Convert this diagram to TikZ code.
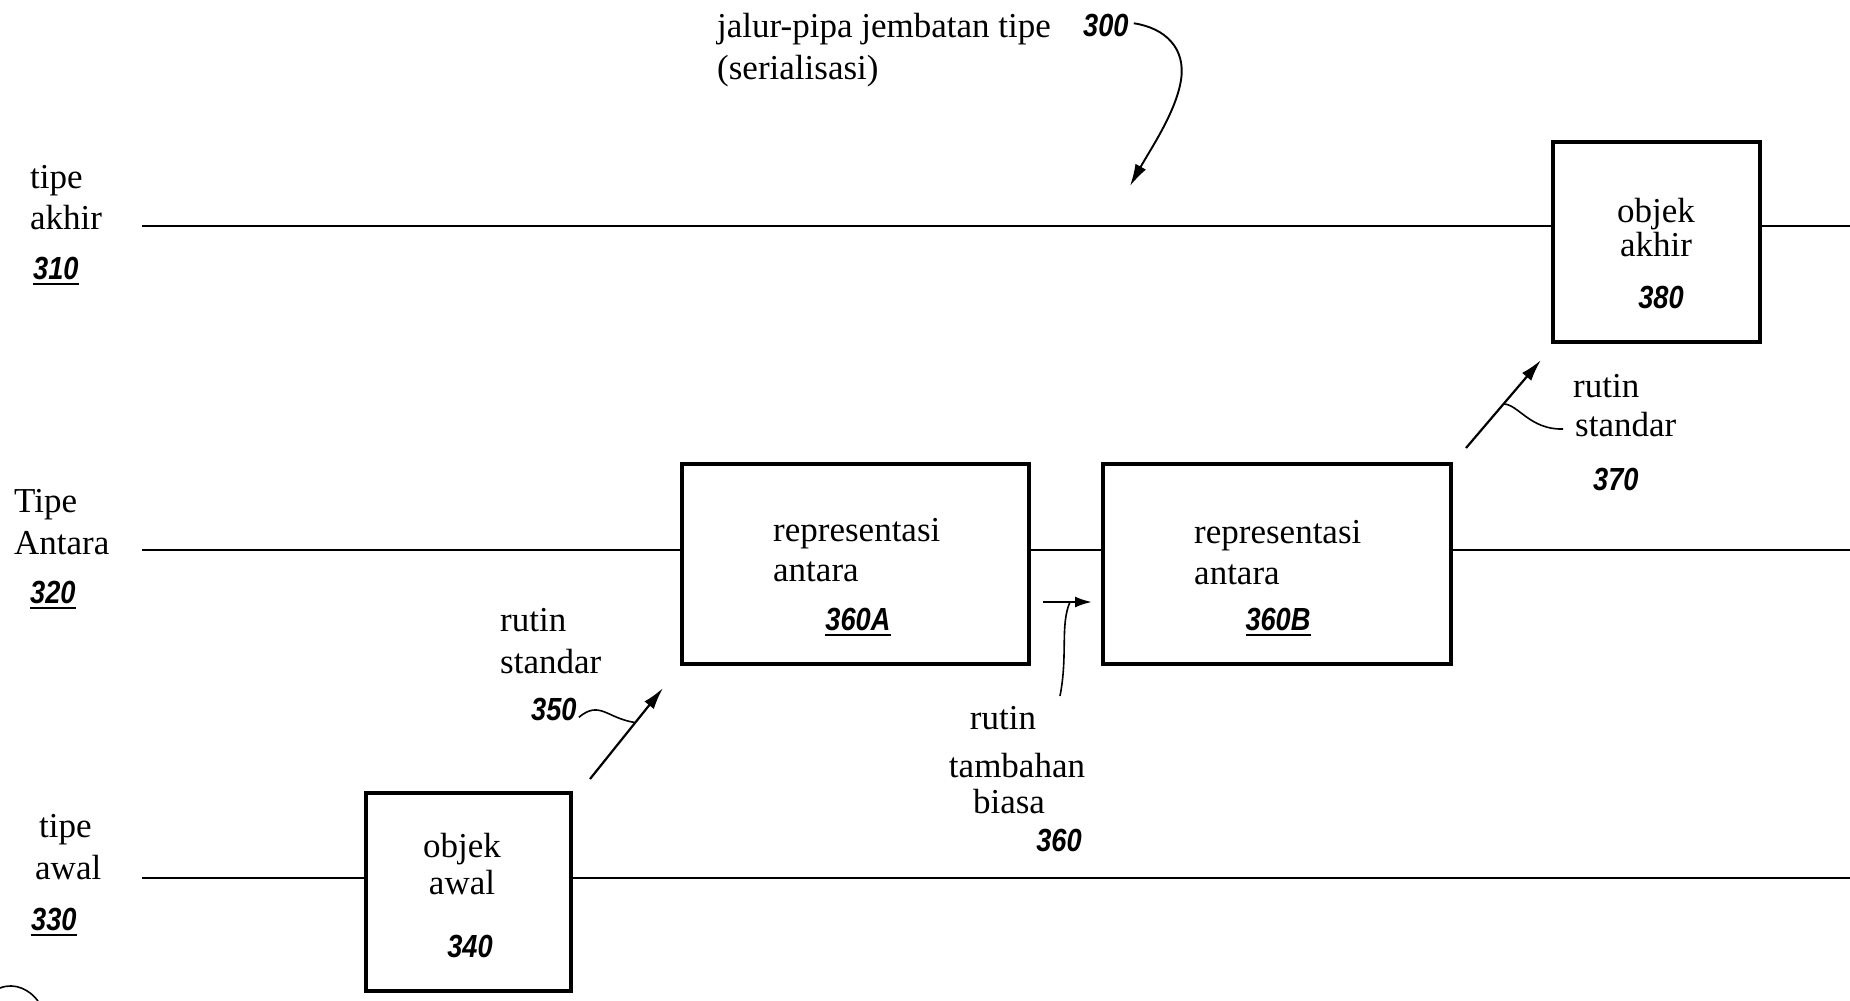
\documentclass[tikz,border=0pt]{standalone}
\usepackage{fontspec}
\setmainfont{Liberation Serif}
\newfontfamily\numfont{Liberation Sans}[FakeStretch=0.85]
\usetikzlibrary{arrows.meta,calc}
\newcommand\myul[1]{\setbox0\hbox{#1}\rlap{\rule[-6pt]{\wd0}{2.6pt}}\box0}
\begin{document}
\begin{tikzpicture}[x=1pt,y=-1pt,
  txt/.style={font=\fontsize{35}{41}\selectfont, inner sep=0pt},
  num/.style={font=\fontsize{32}{38}\selectfont\numfont\bfseries\itshape, inner sep=0pt},
  box/.style={draw, line width=3.2pt, inner sep=0pt},
  rail/.style={line width=2.2pt},
  arr/.style={line width=2.2pt, -{Latex[length=22pt,width=12pt]}},
  squig/.style={line width=1.6pt}]
\useasboundingbox (0,0) rectangle (1850,1001);

% boxes
\node[box, minimum width=207pt, minimum height=200pt] (b380) at (1656.5,242) {};
\node[box, minimum width=347pt, minimum height=200pt] (b360a) at (855.5,564) {};
\node[box, minimum width=348pt, minimum height=200pt] (b360b) at (1277,564) {};
\node[box, minimum width=205pt, minimum height=198pt] (b340) at (468.5,892) {};

% rails
\coordinate (r310s) at (142,226); \coordinate (r310e) at (1850,226);
\coordinate (r320s) at (142,550); \coordinate (r320e) at (1850,550);
\coordinate (r330s) at (142,878); \coordinate (r330e) at (1850,878);
\draw[rail] (r310s) -- (r310s -| b380.west);
\draw[rail] (r310s -| b380.east) -- (r310e);
\draw[rail] (r320s) -- (r320s -| b360a.west);
\draw[rail] (r320s -| b360a.east) -- (r320s -| b360b.west);
\draw[rail] (r320s -| b360b.east) -- (r320e);
\draw[rail] (r330s) -- (r330s -| b340.west);
\draw[rail] (r330s -| b340.east) -- (r330e);

% left labels
\node[txt, anchor=mid west] (l310a) at (30,186) {tipe};
\node[txt, anchor=mid west] (l310b) at (30,227) {akhir};
\node[num, anchor=mid west] (l310c) at (33,277) {\myul{310}};
\node[txt, anchor=mid west] (l320a) at (14,510) {Tipe};
\node[txt, anchor=mid west] (l320b) at (14,552) {Antara};
\node[num, anchor=mid west] (l320c) at (30,601) {\myul{320}};
\node[txt, anchor=mid west] (l330a) at (39,835) {tipe};
\node[txt, anchor=mid west] (l330b) at (35,877) {awal};
\node[num, anchor=mid west] (l330c) at (31,928) {\myul{330}};

% title
\node[txt, anchor=mid west] (title1) at (717,35) {jalur-pipa jembatan tipe};
\node[num, anchor=mid west] (t300) at (1083,34) {300};
\node[txt, anchor=mid west] (title2) at (717,77) {(serialisasi)};
\coordinate (a300) at (1130,186);
\draw[arr, line width=1.9pt] ([xshift=5pt,yshift=2pt]t300.east) .. controls (1165,28) and (1186,48) .. (1181,80) .. controls (1176,112) and (1150,150) .. (a300);

% box texts
\node[txt] (t380a) at (1656,214) {objek};
\node[txt] (t380b) at (1656,245) {akhir};
\node[num] (t380c) at (1661,297) {380};
\node[txt, anchor=mid west] (t360aa) at (773,539) {representasi};
\node[txt, anchor=mid west] (t360ab) at (773,579) {antara};
\node[num] (t360ac) at (858,622) {\myul{360A}};
\node[txt, anchor=mid west] (t360ba) at (1194,541) {representasi};
\node[txt, anchor=mid west] (t360bb) at (1194,582) {antara};
\node[num] (t360bc) at (1278,622) {\myul{360B}};
\node[txt] (t340a) at (462,849) {objek};
\node[txt] (t340b) at (462,883) {awal};
\node[num] (t340c) at (470,946) {340};

% routine 350
\node[txt, anchor=mid west] (l350a) at (500,629) {rutin};
\node[txt, anchor=mid west] (l350b) at (500,671) {standar};
\node[num, anchor=mid west] (l350c) at (531,718) {350};
\coordinate (a350s) at (590,779);
\coordinate (a350e) at (663,688);
\draw[arr] (a350s) -- (a350e);
\coordinate (p350) at ($(a350s)!0.62!(a350e)$);
\draw[squig] ([xshift=2pt,yshift=-8pt]l350c.east) .. controls (600,700) and (606,718) .. (p350);

% routine 360
\coordinate (a360s) at (1043,602);
\coordinate (a360e) at (1092,602);
\draw[arr, -{Latex[length=17pt,width=11pt]}] (a360s) -- (a360e);
\coordinate (p360) at ($(a360s)!0.55!(a360e)$);
\draw[squig] (p360) .. controls (1060,625) and (1068,655) .. (1060,696);
\node[txt] (l360a) at (1003,718) {rutin};
\node[txt] (l360b) at (1017,766) {tambahan};
\node[txt] (l360c) at (1009,802) {biasa};
\node[num] (l360d) at (1059,840) {360};

% routine 370
\coordinate (a370s) at (1466,448);
\coordinate (a370e) at (1541,360);
\draw[arr] (a370s) -- (a370e);
\coordinate (p370) at ($(a370s)!0.5!(a370e)$);
\draw[squig] (p370) .. controls (1518,404) and (1530,430) .. (1563,429);
\node[txt, anchor=mid west] (l370a) at (1573,395) {rutin};
\node[txt, anchor=mid west] (l370b) at (1575,434) {standar};
\node[num, anchor=mid west] (l370c) at (1593,488) {370};

% partial circle at bottom-left corner
\draw[squig] (0,988) .. controls (15,982) and (30,990) .. (38,1001);
\end{tikzpicture}
\end{document}
